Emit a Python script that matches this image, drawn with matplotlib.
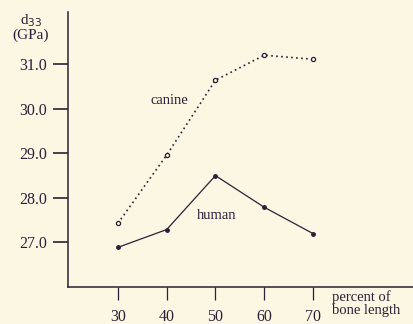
import matplotlib
matplotlib.use("Agg")
import matplotlib.pyplot as plt

# values
percent = [30, 40, 50, 60, 70]
canine = [27.43, 28.96, 30.64, 31.2, 31.11]
human = [26.89, 27.29, 28.5, 27.79, 27.2]
yticks = [27.0, 28.0, 29.0, 30.0, 31.0]

ink = "#2b2036"
paper = "#fbf7e3"

plt.rcParams["font.family"] = ["Liberation Serif", "DejaVu Serif"]

fig = plt.figure(figsize=(4.13, 3.24), dpi=100, facecolor=paper)
ax = fig.add_axes([0.165, 0.114, 0.835, 0.849], facecolor=paper)

ax.plot(percent, canine, color=ink, lw=1.2, ls=(0, (1.0, 2.0)),
        marker="o", ms=3, mfc=paper, mec=ink, mew=0.9)
ax.plot(percent, human, color=ink, lw=0.9, marker="o", ms=2.5,
        mfc=ink, mec=ink)

ax.set_xlim(19.8, 90.5)
ax.set_ylim(26.0, 32.17)
ax.set_xticks(percent)
ax.set_yticks(yticks)
ax.set_yticklabels([f"{v:.1f}" for v in yticks])

for s in ["top", "right"]:
    ax.spines[s].set_visible(False)
for s in ["left", "bottom"]:
    ax.spines[s].set_color(ink)
    ax.spines[s].set_linewidth(1.1)

ax.tick_params(axis="y", direction="out", length=11, width=1.2, colors=ink,
               labelsize=11.5, pad=4)
ax.tick_params(axis="x", direction="out", length=9.5, width=0.9, colors=ink,
               labelsize=11.5, pad=6)

ax.text(36.6, 30.19, "canine", fontsize=10.5, color=ink, ha="left", va="center")
ax.text(46.2, 27.6, "human", fontsize=10.5, color=ink, ha="left", va="center")

fig.text(0.075, 0.935, "d$_{33}$", fontsize=11, color=ink, ha="center", va="center")
fig.text(0.075, 0.89, "(GPa)", fontsize=11, color=ink, ha="center", va="center")
fig.text(0.805, 0.063, "percent of\nbone length", fontsize=10.5, color=ink,
         ha="left", va="center", linespacing=0.95)

fig.savefig("out.png", dpi=100, facecolor=paper)
